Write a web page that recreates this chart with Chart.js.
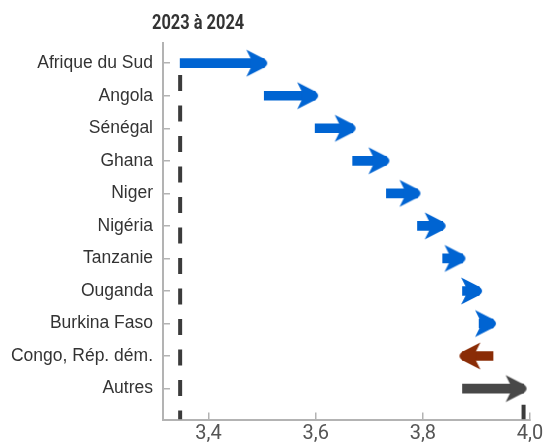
<!DOCTYPE html>
<html>
<head>
<meta charset="utf-8">
<script src="https://cdn.jsdelivr.net/npm/chart.js@4.4.0/dist/chart.umd.min.js"></script>
<style>
  body { margin: 0; background: #fff; }
  #wrap { width: 546px; height: 447px; }
</style>
</head>
<body>
<div id="wrap"><canvas id="chart"></canvas></div>
<script>
// Categories, top to bottom
const countries = ['Afrique du Sud', 'Angola', 'Sénégal', 'Ghana', 'Niger', 'Nigéria',
  'Tanzanie', 'Ouganda', 'Burkina Faso', 'Congo, Rép. dém.', 'Autres'];
// Each arrow runs from its start value to its end value
const startValues = [3.347, 3.504, 3.599, 3.669, 3.732, 3.790, 3.837, 3.874, 3.905, 3.931, 3.874];
const endValues   = [3.504, 3.599, 3.669, 3.732, 3.790, 3.837, 3.874, 3.905, 3.931, 3.874, 3.988];
// up = increase, down = decrease, total = remaining countries
const arrowKind = ['up', 'up', 'up', 'up', 'up', 'up', 'up', 'up', 'up', 'down', 'total'];
const xTicks = [3.4, 3.6, 3.8, 4.0];
const level2023 = 3.347;
const level2024 = 3.988;
const titleText = '2023 à 2024';

const colors = { up: '#0064d2', down: '#8a2c06', total: '#484848' };

// arrow head image, centred on the end value
function makeHead(color) {
  const c = document.createElement('canvas');
  c.width = 50; c.height = 32;
  const g = c.getContext('2d');
  const e = 25, m = 16;
  g.fillStyle = color;
  g.beginPath();
  g.moveTo(e - 18, m - 13.5);
  g.lineTo(e + 0.5, m - 4);
  g.quadraticCurveTo(e + 5.5, m, e + 0.5, m + 4);
  g.lineTo(e - 18, m + 13.5);
  g.lineTo(e - 13.5, m + 4.5);
  g.lineTo(e - 13.5, m - 4.5);
  g.closePath();
  g.fill();
  return c;
}
const heads = { up: makeHead(colors.up), down: makeHead(colors.down), total: makeHead(colors.total) };

const titlePlugin = {
  id: 'topTitle',
  afterDraw(chart) {
    const ctx = chart.ctx;
    ctx.save();
    ctx.translate(152, 24);
    ctx.scale(0.8, 1);
    ctx.font = 'bold 20.5px Roboto, "Liberation Sans", sans-serif';
    ctx.fillStyle = '#333';
    ctx.textBaseline = 'middle';
    ctx.fillText(titleText, 0, 0);
    ctx.restore();
  }
};

new Chart(document.getElementById('chart'), {
  type: 'bar',
  data: {
    datasets: [{
      type: 'scatter',
      order: 0,
      data: countries.map((c, i) => ({ x: endValues[i], y: i })),
      pointStyle: arrowKind.map(k => heads[k]),
      rotation: arrowKind.map(k => k === 'down' ? 180 : 0),
      pointRadius: 5,
      showLine: false
    }, {
      type: 'bar',
      order: 1,
      indexAxis: 'y',
      data: countries.map((c, i) => ({ x: [startValues[i], endValues[i]], y: i })),
      backgroundColor: arrowKind.map(k => colors[k]),
      barThickness: 9,
      borderWidth: 0
    }, {
      type: 'line',
      order: 2,
      data: [{ x: level2023, y: 0.36 }, { x: level2023, y: 10.95 }],
      borderColor: '#3b3b3b',
      borderWidth: 4,
      borderDash: [16, 14.5],
      pointRadius: 0,
      fill: false
    }, {
      type: 'line',
      order: 2,
      data: [{ x: level2024, y: 10.5 }, { x: level2024, y: 10.95 }],
      borderColor: '#3b3b3b',
      borderWidth: 4,
      borderDash: [16, 14.5],
      pointRadius: 0,
      fill: false
    }]
  },
  options: {
    responsive: true,
    maintainAspectRatio: false,
    animation: false,
    layout: { padding: { top: 43, right: 16, left: 0, bottom: 0 } },
    plugins: {
      legend: { display: false },
      tooltip: { enabled: false }
    },
    scales: {
      x: {
        type: 'linear',
        position: 'bottom',
        offset: false,
        min: 3.315,
        max: 4.0,
        afterBuildTicks: s => { s.ticks = xTicks.map(v => ({ value: v })); },
        afterFit: s => { s.height = 24; s.paddingLeft = 0; s.paddingRight = 0; },
        border: { display: true, color: '#b3b3b3', width: 2 },
        grid: { offset: false, drawOnChartArea: false, color: '#b3b3b3', lineWidth: 1.5, tickLength: -7 },
        ticks: {
          padding: 9,
          color: '#555',
          font: { family: 'Roboto, "Liberation Sans", Arial', size: 20 },
          callback: v => v.toFixed(1).replace('.', ',')
        }
      },
      y: {
        type: 'linear',
        reverse: true,
        offset: false,
        min: -0.62,
        max: 10.95,
        afterBuildTicks: s => { s.ticks = countries.map((c, i) => ({ value: i })); },
        afterFit: s => { s.width = 163; },
        border: { display: true, color: '#b3b3b3', width: 2 },
        grid: { offset: false, drawOnChartArea: false, color: '#b3b3b3', lineWidth: 1.5, tickLength: -7 },
        ticks: {
          autoSkip: false,
          padding: 17,
          color: '#333',
          font: { family: '"Liberation Sans", Arial', size: 17.5 },
          callback: v => countries[v]
        }
      }
    }
  },
  plugins: [titlePlugin]
});
</script>
</body>
</html>
